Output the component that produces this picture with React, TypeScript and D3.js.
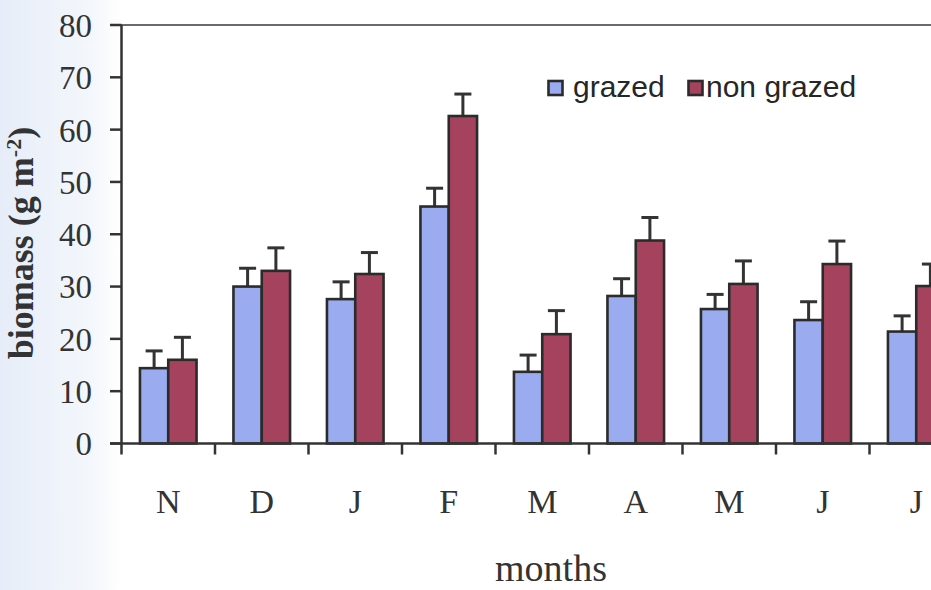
import React from "react";
import * as d3 from "d3";

const months = ["N", "D", "J", "F", "M", "A", "M", "J", "J"];
const seriesNames = ["grazed", "non grazed"];
const grazed = [14.4, 30.0, 27.6, 45.3, 13.7, 28.2, 25.7, 23.6, 21.4];
const grazedErr = [3.3, 3.5, 3.3, 3.5, 3.2, 3.3, 2.8, 3.5, 3.0];
const nonGrazed = [16.0, 33.0, 32.4, 62.6, 20.9, 38.8, 30.5, 34.3, 30.1];
const nonGrazedErr = [4.3, 4.4, 4.1, 4.2, 4.5, 4.4, 4.4, 4.4, 4.2];
const yTicks = [0, 10, 20, 30, 40, 50, 60, 70, 80];

const W = 931;
const H = 590;
const X0 = 121.5;
const STEP = 93.5;
const Y0 = 443.5;
const Y1 = 25;

const colors = ["#9aacef", "#a5435f"];
const ink = "#333";
const serif = "'Liberation Serif', 'Times New Roman', serif";
const sans = "'Liberation Sans', Arial, sans-serif";

export default function App() {
  const keys = months.map((_, i) => String(i));
  const x = d3.scaleBand<string>().domain(keys).range([X0, X0 + STEP * months.length]).padding(0);
  const xs = d3.scaleBand<string>().domain(seriesNames).range([0, x.bandwidth()]).paddingInner(0).paddingOuter(0.652);
  const y = d3.scaleLinear().domain([0, 80]).range([Y0, Y1]);

  const rows = months.map((m, i) => ({
    key: keys[i],
    label: m,
    vals: [
      { s: seriesNames[0], v: grazed[i], e: grazedErr[i] },
      { s: seriesNames[1], v: nonGrazed[i], e: nonGrazedErr[i] },
    ],
  }));

  return (
    <svg width={W} height={H} style={{ position: "absolute", left: 0, top: 0, background: "#fff" }}>
      <defs>
        <linearGradient id="paper" x1="0" x2="1" y1="0" y2="0">
          <stop offset="0" stopColor="#e6edf8" />
          <stop offset="0.1" stopColor="#f4f7fc" />
          <stop offset="0.13" stopColor="#ffffff" />
        </linearGradient>
      </defs>
      <rect x={0} y={0} width={W} height={H} fill="url(#paper)" />

      {/* plot frame top */}
      <line x1={110} x2={W} y1={y(80)} y2={y(80)} stroke="#6a6a72" strokeWidth={2} />

      {/* bars and error bars */}
      {rows.map((r) => (
        <g key={r.key}>
          {r.vals.map((d, j) => {
            const bx = (x(r.key) as number) + (xs(d.s) as number);
            const bw = xs.bandwidth();
            const cx = bx + bw / 2;
            return (
              <g key={d.s}>
                <line x1={cx} x2={cx} y1={y(d.v)} y2={y(d.v + d.e)} stroke={ink} strokeWidth={3} />
                <line x1={cx - 8.5} x2={cx + 8.5} y1={y(d.v + d.e)} y2={y(d.v + d.e)} stroke={ink} strokeWidth={3} />
                <rect x={bx} y={y(d.v)} width={bw} height={Y0 - y(d.v)} fill={colors[j]} stroke="#2b2b2b" strokeWidth={2.6} />
              </g>
            );
          })}
        </g>
      ))}

      {/* y axis */}
      <line x1={X0} x2={X0} y1={Y1} y2={Y0} stroke={ink} strokeWidth={2.5} />
      {yTicks.map((t) => (
        <g key={t}>
          <line x1={110} x2={X0} y1={y(t)} y2={y(t)} stroke={ink} strokeWidth={2.5} />
          <text x={92} y={y(t)} dy="0.36em" textAnchor="end" fontFamily={serif} fontSize={33} fill={ink}>
            {t}
          </text>
        </g>
      ))}

      {/* x axis */}
      <line x1={110} x2={W} y1={Y0} y2={Y0} stroke={ink} strokeWidth={2.5} />
      {keys.map((k) => (
        <line key={k} x1={x(k) as number} x2={x(k) as number} y1={Y0} y2={Y0 + 11} stroke={ink} strokeWidth={2.5} />
      ))}
      {rows.map((r) => (
        <text key={r.key} x={(x(r.key) as number) + x.bandwidth() / 2} y={513} textAnchor="middle" fontFamily={serif} fontSize={34} fill={ink}>
          {r.label}
        </text>
      ))}

      {/* axis titles */}
      <text x={551} y={581} textAnchor="middle" fontFamily={serif} fontSize={38} fill={ink}>
        months
      </text>
      <text transform="translate(33,243) rotate(-90)" textAnchor="middle" fontFamily={serif} fontWeight="bold" fontSize={36} fill={ink}>
        biomass (g m<tspan dy={-12} fontSize={22}>-2</tspan>
        <tspan dy={12}>)</tspan>
      </text>

      {/* legend */}
      <g>
        <rect x={548.5} y={81} width={14} height={14} fill={colors[0]} stroke="#2b2b2b" strokeWidth={2.6} />
        <text x={573} y={97} fontFamily={sans} fontSize={30} fill="#262626">
          {seriesNames[0]}
        </text>
        <rect x={688.5} y={81} width={14} height={14} fill={colors[1]} stroke="#2b2b2b" strokeWidth={2.6} />
        <text x={706} y={97} fontFamily={sans} fontSize={30} fill="#262626">
          {seriesNames[1]}
        </text>
      </g>
    </svg>
  );
}
